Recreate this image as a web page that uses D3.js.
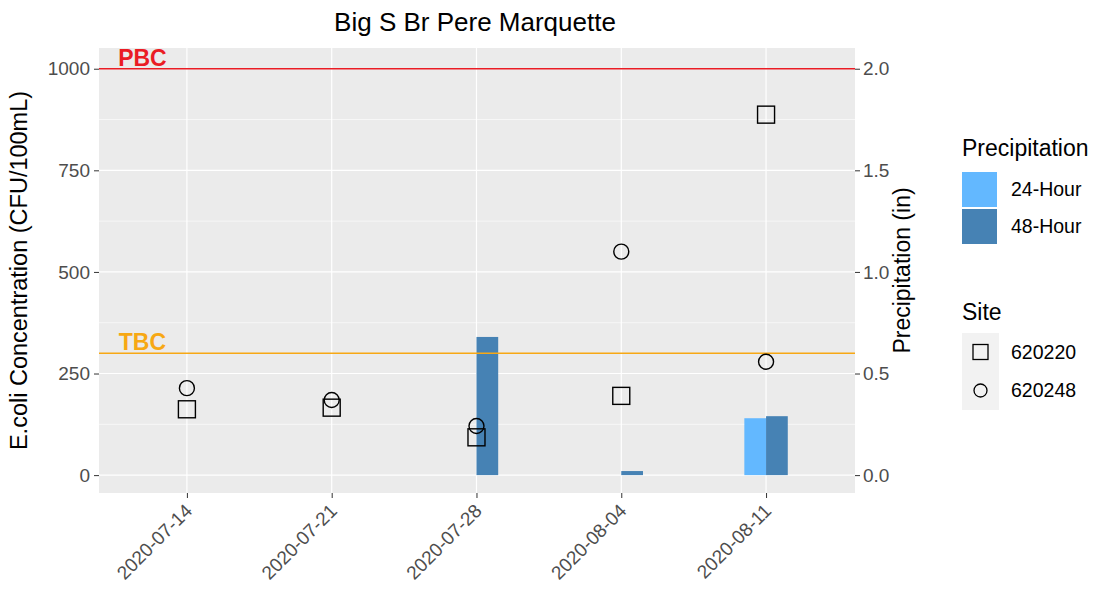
<!DOCTYPE html>
<html lang="en">
<head>
<meta charset="utf-8">
<title>Big S Br Pere Marquette</title>
<script src="https://cdn.jsdelivr.net/npm/d3@7"></script>
<style>
  body { margin: 0; background: #fff; }
  svg text { font-family: "Liberation Sans", Arial, sans-serif; }
  .tick text { fill: #4d4d4d; font-size: 19px; }
  .tick line { stroke: #333; }
</style>
</head>
<body>
<script>
// sample dates and values
var dates = ["2020-07-14", "2020-07-21", "2020-07-28", "2020-08-04", "2020-08-11"];
var site620220 = [162, 166, 93, 195, 887];
var site620248 = [214, 185, 121, 550, 279];
var precip24 = [0, 0, 0, 0, 0.28];
var precip48 = [0, 0, 0.68, 0.02, 0.29];

var yTicks = [0, 250, 500, 750, 1000];
var yMinor = [125, 375, 625, 875];
var y2Ticks = [0, 0.5, 1.0, 1.5, 2.0];
var siteNames = ["620220", "620248"];
var precipNames = ["24-Hour", "48-Hour"];
var limits = [{ name: "PBC", value: 1000, color: "#ea1c24" }, { name: "TBC", value: 300, color: "#f7a814" }];

var W = 1100, H = 595;
var pL = 99, pR = 855, pT = 48, pB = 493;
var day = 864e5;
var parse = d3.timeParse("%Y-%m-%d");
var dts = dates.map(parse);

var x = d3.scaleTime()
    .domain([new Date(+dts[0] - 4.25 * day), new Date(+dts[dts.length - 1] + 4.3 * day)])
    .range([pL, pR]);
var y = d3.scaleLinear().domain([-44, 1051]).range([pB, pT]);
// precipitation axis is concentration / 500
var y2 = d3.scaleLinear().domain([-44 / 500, 1051 / 500]).range([pB, pT]);
var barW = x(new Date(+dts[0] + 1.05 * day)) - x(dts[0]);

var svg = d3.select("body").append("svg")
    .attr("width", W)
    .attr("height", H);

// panel
svg.append("rect")
    .attr("x", pL).attr("y", pT)
    .attr("width", pR - pL).attr("height", pB - pT)
    .attr("fill", "#ebebeb");

svg.selectAll(".minor")
    .data(yMinor)
  .enter().append("line")
    .attr("x1", pL).attr("x2", pR)
    .attr("y1", function(d) { return y(d); })
    .attr("y2", function(d) { return y(d); })
    .attr("stroke", "#fff").attr("stroke-width", 0.6);

svg.selectAll(".hmajor")
    .data(yTicks)
  .enter().append("line")
    .attr("x1", pL).attr("x2", pR)
    .attr("y1", function(d) { return y(d); })
    .attr("y2", function(d) { return y(d); })
    .attr("stroke", "#fff").attr("stroke-width", 1.2);

svg.selectAll(".vmajor")
    .data(dts)
  .enter().append("line")
    .attr("y1", pT).attr("y2", pB)
    .attr("x1", function(d) { return x(d); })
    .attr("x2", function(d) { return x(d); })
    .attr("stroke", "#fff").attr("stroke-width", 1.2);

// precipitation bars, 24h left of the date and 48h right of it
var bars = [];
dts.forEach(function(d, i) {
  bars.push({ date: d, v: precip24[i], k: 0 });
  bars.push({ date: d, v: precip48[i], k: 1 });
});
var barColor = d3.scaleOrdinal().domain([0, 1]).range(["#63b8ff", "#4682b4"]);

svg.selectAll(".bar")
    .data(bars.filter(function(b) { return b.v > 0; }))
  .enter().append("rect")
    .attr("x", function(b) { return x(b.date) - barW + b.k * barW; })
    .attr("y", function(b) { return y2(b.v); })
    .attr("width", barW)
    .attr("height", function(b) { return y2(0) - y2(b.v); })
    .attr("fill", function(b) { return barColor(b.k); });

// limit lines and labels
svg.selectAll(".limit")
    .data(limits)
  .enter().append("line")
    .attr("x1", pL).attr("x2", pR)
    .attr("y1", function(d) { return y(d.value); })
    .attr("y2", function(d) { return y(d.value); })
    .attr("stroke", function(d) { return d.color; })
    .attr("stroke-width", 1.4);

svg.selectAll(".limitLabel")
    .data(limits)
  .enter().append("text")
    .attr("x", x(new Date(+dts[0] - 2.15 * day)))
    .attr("y", function(d) { return y(d.value) - 3; })
    .attr("text-anchor", "middle")
    .attr("font-weight", "bold")
    .attr("font-size", "23px")
    .attr("fill", function(d) { return d.color; })
    .text(function(d) { return d.name; });

// points
var sq = 17, rc = 7.5;
svg.selectAll(".sq")
    .data(dts)
  .enter().append("rect")
    .attr("x", function(d) { return x(d) - sq / 2; })
    .attr("y", function(d, i) { return y(site620220[i]) - sq / 2; })
    .attr("width", sq).attr("height", sq)
    .attr("fill", "none").attr("stroke", "#000").attr("stroke-width", 1.4);

svg.selectAll(".ci")
    .data(dts)
  .enter().append("circle")
    .attr("cx", function(d) { return x(d); })
    .attr("cy", function(d, i) { return y(site620248[i]); })
    .attr("r", rc)
    .attr("fill", "none").attr("stroke", "#000").attr("stroke-width", 1.4);

// axes
var gy = svg.append("g")
    .attr("transform", "translate(" + pL + ",0)")
    .call(d3.axisLeft(y).tickValues(yTicks).tickFormat(d3.format("d")).tickSize(5).tickPadding(4));
gy.select(".domain").remove();

var gy2 = svg.append("g")
    .attr("transform", "translate(" + pR + ",0)")
    .call(d3.axisRight(y2).tickValues(y2Ticks).tickFormat(d3.format(".1f")).tickSize(5).tickPadding(3));
gy2.select(".domain").remove();

var gx = svg.append("g")
    .attr("transform", "translate(0," + pB + ")")
    .call(d3.axisBottom(x).tickValues(dts).tickFormat(d3.timeFormat("%Y-%m-%d")).tickSize(5));
gx.select(".domain").remove();
gx.selectAll(".tick text")
    .attr("text-anchor", "end")
    .attr("y", 0).attr("dy", 0)
    .attr("transform", "translate(6,19) rotate(-45)");

// titles
svg.append("text")
    .attr("x", (pL + pR) / 2 - 2).attr("y", 31)
    .attr("text-anchor", "middle")
    .attr("font-size", "26px")
    .text("Big S Br Pere Marquette");

svg.append("text")
    .attr("transform", "translate(27," + (pT + pB) / 2 + ") rotate(-90)")
    .attr("text-anchor", "middle")
    .attr("font-size", "23.5px")
    .text("E.coli Concentration (CFU/100mL)");

svg.append("text")
    .attr("transform", "translate(910," + (pT + pB) / 2 + ") rotate(-90)")
    .attr("text-anchor", "middle")
    .attr("font-size", "23px")
    .text("Precipitation (in)");

// legend: precipitation
var lx = 962;
svg.append("text").attr("x", lx).attr("y", 156).attr("font-size", "23px").text("Precipitation");
var lp = svg.selectAll(".lp")
    .data(precipNames)
  .enter().append("g")
    .attr("transform", function(d, i) { return "translate(" + lx + "," + (172 + i * 37) + ")"; });
lp.append("rect")
    .attr("width", 35).attr("height", 35)
    .attr("fill", function(d, i) { return barColor(i); });
lp.append("text")
    .attr("x", 49).attr("y", 17.5).attr("dy", "0.35em")
    .attr("font-size", "19.5px")
    .text(function(d) { return d; });

// legend: site
svg.append("text").attr("x", lx).attr("y", 320).attr("font-size", "23px").text("Site");
svg.append("rect")
    .attr("x", lx).attr("y", 333)
    .attr("width", 37).attr("height", 77)
    .attr("fill", "#f2f2f2");
var ls = svg.selectAll(".ls")
    .data(siteNames)
  .enter().append("g")
    .attr("transform", function(d, i) { return "translate(" + lx + "," + (333 + i * 38.5) + ")"; });
ls.filter(function(d, i) { return i === 0; }).append("rect")
    .attr("x", 18.5 - 7.5).attr("y", 19 - 7.5)
    .attr("width", 15).attr("height", 15)
    .attr("fill", "none").attr("stroke", "#000").attr("stroke-width", 1.3);
ls.filter(function(d, i) { return i === 1; }).append("circle")
    .attr("cx", 18.5).attr("cy", 19).attr("r", 6.5)
    .attr("fill", "none").attr("stroke", "#000").attr("stroke-width", 1.3);
ls.append("text")
    .attr("x", 49).attr("y", 19).attr("dy", "0.35em")
    .attr("font-size", "19.5px")
    .text(function(d) { return d; });
</script>
</body>
</html>
